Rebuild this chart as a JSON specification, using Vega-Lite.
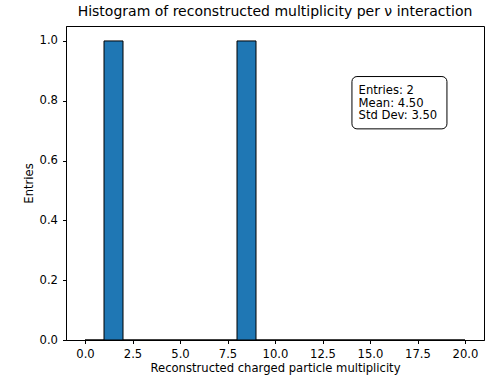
{
  "$schema": "https://vega.github.io/schema/vega-lite/v6.json",
  "width": 418,
  "height": 314,
  "autosize": {"type": "none"},
  "padding": {"left": 66, "top": 26, "right": 14, "bottom": 42},
  "background": "white",
  "title": {
    "text": "Histogram of reconstructed multiplicity per ν interaction",
    "font": "DejaVu Sans",
    "fontSize": 14,
    "fontWeight": "normal",
    "color": "black",
    "anchor": "middle",
    "offset": 7
  },
  "config": {
    "view": {"stroke": "black", "strokeWidth": 1},
    "axis": {
      "grid": false,
      "domainColor": "black",
      "tickColor": "black",
      "tickSize": 3.5,
      "labelFont": "DejaVu Sans",
      "labelFontSize": 11.6,
      "labelColor": "black",
      "titleFont": "DejaVu Sans",
      "titleFontSize": 11.6,
      "titleFontWeight": "normal",
      "titleColor": "black"
    }
  },
  "datasets": {
    "hist": [
      {"bin_start": 0, "bin_end": 1, "count": 0},
      {"bin_start": 1, "bin_end": 2, "count": 1},
      {"bin_start": 2, "bin_end": 3, "count": 0},
      {"bin_start": 3, "bin_end": 4, "count": 0},
      {"bin_start": 4, "bin_end": 5, "count": 0},
      {"bin_start": 5, "bin_end": 6, "count": 0},
      {"bin_start": 6, "bin_end": 7, "count": 0},
      {"bin_start": 7, "bin_end": 8, "count": 0},
      {"bin_start": 8, "bin_end": 9, "count": 1},
      {"bin_start": 9, "bin_end": 10, "count": 0},
      {"bin_start": 10, "bin_end": 11, "count": 0},
      {"bin_start": 11, "bin_end": 12, "count": 0},
      {"bin_start": 12, "bin_end": 13, "count": 0},
      {"bin_start": 13, "bin_end": 14, "count": 0},
      {"bin_start": 14, "bin_end": 15, "count": 0},
      {"bin_start": 15, "bin_end": 16, "count": 0},
      {"bin_start": 16, "bin_end": 17, "count": 0},
      {"bin_start": 17, "bin_end": 18, "count": 0},
      {"bin_start": 18, "bin_end": 19, "count": 0},
      {"bin_start": 19, "bin_end": 20, "count": 0}
    ],
    "box": [
      {"x0": 14.05, "x1": 19.05, "y0": 0.706, "y1": 0.881}
    ],
    "stats": [
      {"label": "Entries: 2", "x": 14.4, "y": 0.822},
      {"label": "Mean: 4.50", "x": 14.4, "y": 0.78},
      {"label": "Std Dev: 3.50", "x": 14.4, "y": 0.738}
    ]
  },
  "layer": [
    {
      "data": {"name": "hist"},
      "mark": {"type": "rect", "fill": "#1f77b4", "stroke": "black", "strokeWidth": 1},
      "encoding": {
        "x": {
          "field": "bin_start",
          "type": "quantitative",
          "scale": {"domain": [-1, 21], "nice": false, "zero": false},
          "axis": {
            "values": [0, 2.5, 5, 7.5, 10, 12.5, 15, 17.5, 20],
            "format": ".1f",
            "title": "Reconstructed charged particle multiplicity",
            "labelPadding": 5,
            "titlePadding": 2
          }
        },
        "x2": {"field": "bin_end"},
        "y": {
          "field": "count",
          "type": "quantitative",
          "scale": {"domain": [0, 1.05], "nice": false},
          "axis": {
            "values": [0, 0.2, 0.4, 0.6, 0.8, 1.0],
            "format": ".1f",
            "title": "Entries",
            "labelPadding": 5,
            "titlePadding": 5
          }
        },
        "y2": {"datum": 0}
      }
    },
    {
      "data": {"name": "box"},
      "mark": {"type": "rect", "fill": "white", "stroke": "black", "strokeWidth": 1, "cornerRadius": 5},
      "encoding": {
        "x": {"field": "x0", "type": "quantitative"},
        "x2": {"field": "x1"},
        "y": {"field": "y0", "type": "quantitative"},
        "y2": {"field": "y1"}
      }
    },
    {
      "data": {"name": "stats"},
      "mark": {"type": "text", "align": "left", "baseline": "alphabetic", "font": "DejaVu Sans", "fontSize": 11.6, "color": "black"},
      "encoding": {
        "x": {"field": "x", "type": "quantitative"},
        "y": {"field": "y", "type": "quantitative"},
        "text": {"field": "label"}
      }
    }
  ]
}
